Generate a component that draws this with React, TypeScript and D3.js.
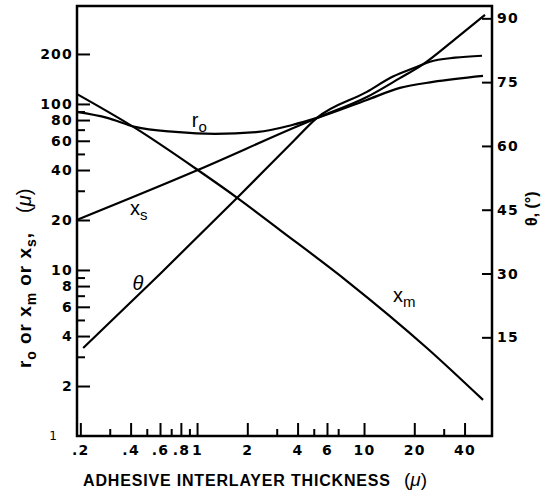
import React, { useEffect, useRef } from "react";
import * as d3 from "d3";

// values: [thickness (μ), value]
const r0Data: [number, number][] = [
  [0.19, 89.5], [0.29, 82.4], [0.425, 72.7], [0.74, 67.8], [1.28, 66],
  [2.32, 67.8], [3.71, 74.7], [5.23, 82.4], [10.4, 105.7], [16.4, 124.9],
  [25.9, 135.7], [51.6, 147.5],
];
const xmData: [number, number][] = [
  [0.19, 115], [0.425, 71.7], [1.01, 40], [1.74, 27.2], [3.14, 17.4],
  [7.9, 8.58], [23.8, 3.39], [51.6, 1.65],
];
const xsData: [number, number][] = [
  [0.19, 20], [1.01, 40], [3.71, 71.1], [5.23, 82.4], [10.4, 110], [16.4, 143],
  [22.3, 172], [35.1, 246], [53, 344],
];
// theta in degrees, right axis
const thetaData: [number, number][] = [
  [0.208, 12.5], [0.6, 29.9], [1.74, 47.8], [3.71, 60.8], [5.23, 66.6], [10.4, 72.7],
  [14.9, 76.3], [20.8, 78.6], [24.8, 79.8], [35.1, 80.75], [50.9, 81.2],
];

const xTicks = [0.2, 0.4, 0.6, 0.8, 1, 2, 4, 6, 10, 20, 40];
const xTickLabels = [".2", ".4", ".6", ".8", "1", "2", "4", "6", "10", "20", "40"];
const xMinorTicks = [0.3, 0.5, 0.7, 0.9, 3, 5, 7, 30];
const yTicks = [2, 4, 6, 8, 10, 20, 40, 60, 80, 100, 200];
const yMinorTicks = [3, 5, 7, 9, 30, 50, 70, 90];
const thetaTicks = [15, 30, 45, 60, 75, 90];

const W = 542;
const H = 493;
const margin = { top: 6, right: 50, bottom: 57, left: 77 };

const App = () => {
  const ref = useRef<SVGSVGElement>(null);

  useEffect(() => {
    const svg = d3.select(ref.current);
    svg.selectAll("*").remove();

    const x = d3.scaleLog().domain([0.191, 58.4]).range([margin.left, W - margin.right]);
    const y = d3.scaleLog().domain([1, 389]).range([H - margin.bottom, margin.top]);
    const yTheta = d3.scaleLinear().domain([-8.2, 92.9]).range([H - margin.bottom, margin.top]);

    const [x0, x1] = x.range();
    const [yb, yt] = y.range();

    const tickFont = "'DejaVu Sans', sans-serif";
    const labelFont = "'Liberation Sans', Arial, sans-serif";

    const styleAxis = (g: any) => {
      g.select(".domain").remove();
      g.selectAll(".tick line").attr("stroke", "#000").attr("stroke-width", 2);
      g.selectAll(".tick text")
        .attr("fill", "#000")
        .attr("font-family", tickFont)
        .attr("font-size", 14)
        .attr("font-weight", "bold")
        .attr("letter-spacing", 1.2);
    };

    // left axis
    svg.append("g")
      .attr("transform", `translate(${x0},0)`)
      .call(d3.axisLeft(y).tickValues(yTicks).tickFormat((d: any) => String(d)).tickSize(-13).tickPadding(4))
      .call(styleAxis);
    svg.append("g")
      .attr("transform", `translate(${x0},0)`)
      .call(d3.axisLeft(y).tickValues(yMinorTicks).tickFormat(() => "").tickSize(-8))
      .call(styleAxis);
    svg.append("g")
      .attr("transform", `translate(${x0},0)`)
      .call(d3.axisLeft(y).tickValues([1]).tickFormat(() => "1").tickSize(0).tickPadding(19))
      .call(styleAxis)
      .selectAll("text").attr("font-weight", "normal").attr("font-size", 12);

    // bottom axis
    svg.append("g")
      .attr("transform", `translate(0,${yb})`)
      .call(d3.axisBottom(x).tickValues(xTicks).tickFormat((d, i) => xTickLabels[i]).tickSize(-13).tickPadding(9))
      .call(styleAxis);
    svg.append("g")
      .attr("transform", `translate(0,${yb})`)
      .call(d3.axisBottom(x).tickValues(xMinorTicks).tickFormat(() => "").tickSize(-7))
      .call(styleAxis);

    // right axis (theta)
    svg.append("g")
      .attr("transform", `translate(${x1},0)`)
      .call(d3.axisRight(yTheta).tickValues(thetaTicks).tickFormat((d: any) => String(d)).tickSize(-10).tickPadding(5))
      .call(styleAxis);

    // frame
    svg.append("rect")
      .attr("x", x0).attr("y", yt)
      .attr("width", x1 - x0).attr("height", yb - yt)
      .attr("fill", "none").attr("stroke", "#000").attr("stroke-width", 2.5);

    // curves
    const logLine = d3.line<[number, number]>()
      .x((d) => x(d[0]))
      .y((d) => y(d[1]))
      .curve(d3.curveMonotoneX);
    const thetaLine = d3.line<[number, number]>()
      .x((d) => x(d[0]))
      .y((d) => yTheta(d[1]))
      .curve(d3.curveMonotoneX);

    [r0Data, xmData, xsData].forEach((d) => {
      svg.append("path").datum(d)
        .attr("fill", "none").attr("stroke", "#000").attr("stroke-width", 2.2)
        .attr("d", logLine);
    });
    svg.append("path").datum(thetaData)
      .attr("fill", "none").attr("stroke", "#000").attr("stroke-width", 2.2)
      .attr("d", thetaLine);

    // curve labels
    const curveLabel = (px: number, py: number, main: string, sub: string, italic = false) => {
      const t = svg.append("text")
        .attr("x", px).attr("y", py)
        .attr("font-family", labelFont).attr("font-size", 20)
        .attr("font-style", italic ? "italic" : "normal")
        .attr("fill", "#000");
      t.append("tspan").text(main);
      if (sub) t.append("tspan").attr("dy", 5).attr("font-size", 15).text(sub);
    };
    curveLabel(x(0.93), y(72.7), "r", "o");
    curveLabel(x(0.397), y(21.4), "x", "s");
    curveLabel(x(0.41), y(7.6), "θ", "", true);
    curveLabel(x(14.9), y(6.4), "x", "m");

    // x title
    svg.append("text")
      .attr("x", 83).attr("y", 486)
      .attr("font-family", labelFont).attr("font-size", 16).attr("font-weight", "bold")
      .attr("fill", "#000")
      .attr("textLength", 307).attr("lengthAdjust", "spacing")
      .text("ADHESIVE INTERLAYER THICKNESS");
    const xt2 = svg.append("text")
      .attr("x", 404).attr("y", 486)
      .attr("font-family", labelFont).attr("font-size", 19)
      .attr("fill", "#000");
    xt2.append("tspan").text("(");
    xt2.append("tspan").attr("font-style", "italic").text("μ");
    xt2.append("tspan").text(")");

    // y title (left), rotated
    const yt1 = svg.append("text")
      .attr("transform", "translate(31,368) rotate(-90)")
      .attr("font-family", labelFont).attr("font-size", 19).attr("font-weight", "bold")
      .attr("fill", "#000")
      .attr("textLength", 135).attr("lengthAdjust", "spacing");
    yt1.append("tspan").text("r");
    yt1.append("tspan").attr("dy", 5).attr("font-size", 14).text("o");
    yt1.append("tspan").attr("dy", -5).text(" or x");
    yt1.append("tspan").attr("dy", 5).attr("font-size", 14).text("m");
    yt1.append("tspan").attr("dy", -5).text(" or x");
    yt1.append("tspan").attr("dy", 5).attr("font-size", 14).text("s");
    yt1.append("tspan").attr("dy", -5).text(",");
    const yt2 = svg.append("text")
      .attr("transform", "translate(31,213) rotate(-90)")
      .attr("font-family", labelFont).attr("font-size", 20)
      .attr("fill", "#000");
    yt2.append("tspan").text("(");
    yt2.append("tspan").attr("font-style", "italic").text("μ");
    yt2.append("tspan").text(")");

    // right title
    svg.append("text")
      .attr("transform", "translate(537,226) rotate(-90)")
      .attr("font-family", labelFont).attr("font-size", 16).attr("font-weight", "bold")
      .attr("fill", "#000")
      .text("θ, (°)");
  }, []);

  return (
    <svg
      ref={ref}
      width={W}
      height={H}
      style={{ position: "absolute", left: 0, top: 0, background: "#fff" }}
    ></svg>
  );
};

export default App;
